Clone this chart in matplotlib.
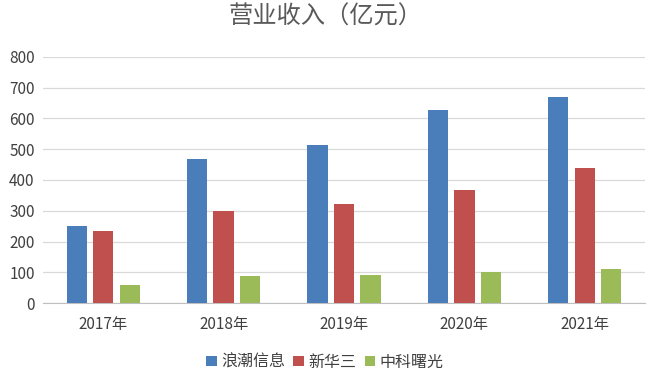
import numpy as np
import matplotlib
matplotlib.use("Agg")
import matplotlib.pyplot as plt

plt.rcParams["font.family"] = ["Noto Sans CJK SC", "DejaVu Sans"]

years = ["2017年", "2018年", "2019年", "2020年", "2021年"]
inspur = [252, 467, 512, 627, 668]
h3c = [234, 298, 321, 366, 440]
sugon = [60, 88, 92, 100, 110]

series = [("浪潮信息", inspur, "#4A7EBB"),
          ("新华三", h3c, "#C0504D"),
          ("中科曙光", sugon, "#9BBB59")]

fig = plt.figure(figsize=(6.5, 3.76), dpi=100)
ax = fig.add_axes([43 / 650, 1 - 303.3 / 376, 602 / 650, (303.3 - 56.7) / 376])

x = np.arange(len(years))
width = 0.168
step = 0.22
for i, (name, vals, color) in enumerate(series):
    ax.bar(x + (i - 1) * step, vals, width, color=color, label=name, zorder=3)

ax.set_xlim(-0.5, len(years) - 0.5)
ax.set_ylim(0, 800)
ax.set_yticks(range(0, 801, 100))
ax.set_xticks(x)
ax.set_xticklabels(years)
ax.yaxis.grid(True, color="#d9d9d9", linewidth=0.9, zorder=0)
for s in ["top", "right", "left"]:
    ax.spines[s].set_visible(False)
ax.spines["bottom"].set_color("#bfbfbf")
ax.tick_params(axis="both", length=0, labelsize=11, colors="#404040")
ax.tick_params(axis="y", pad=6)
ax.tick_params(axis="x", pad=9)

fig.text(0.5, 1 - 17 / 376, "营业收入（亿元）", ha="center", va="center", fontsize=17.5, color="#595959")
fig.legend(loc="center", bbox_to_anchor=(0.5, 1 - 362 / 376), ncol=3, frameon=False,
           fontsize=11.5, handlelength=0.65, handleheight=0.65, handletextpad=0.3,
           columnspacing=0.5, labelcolor="#404040")

fig.savefig("out.png", dpi=100)
